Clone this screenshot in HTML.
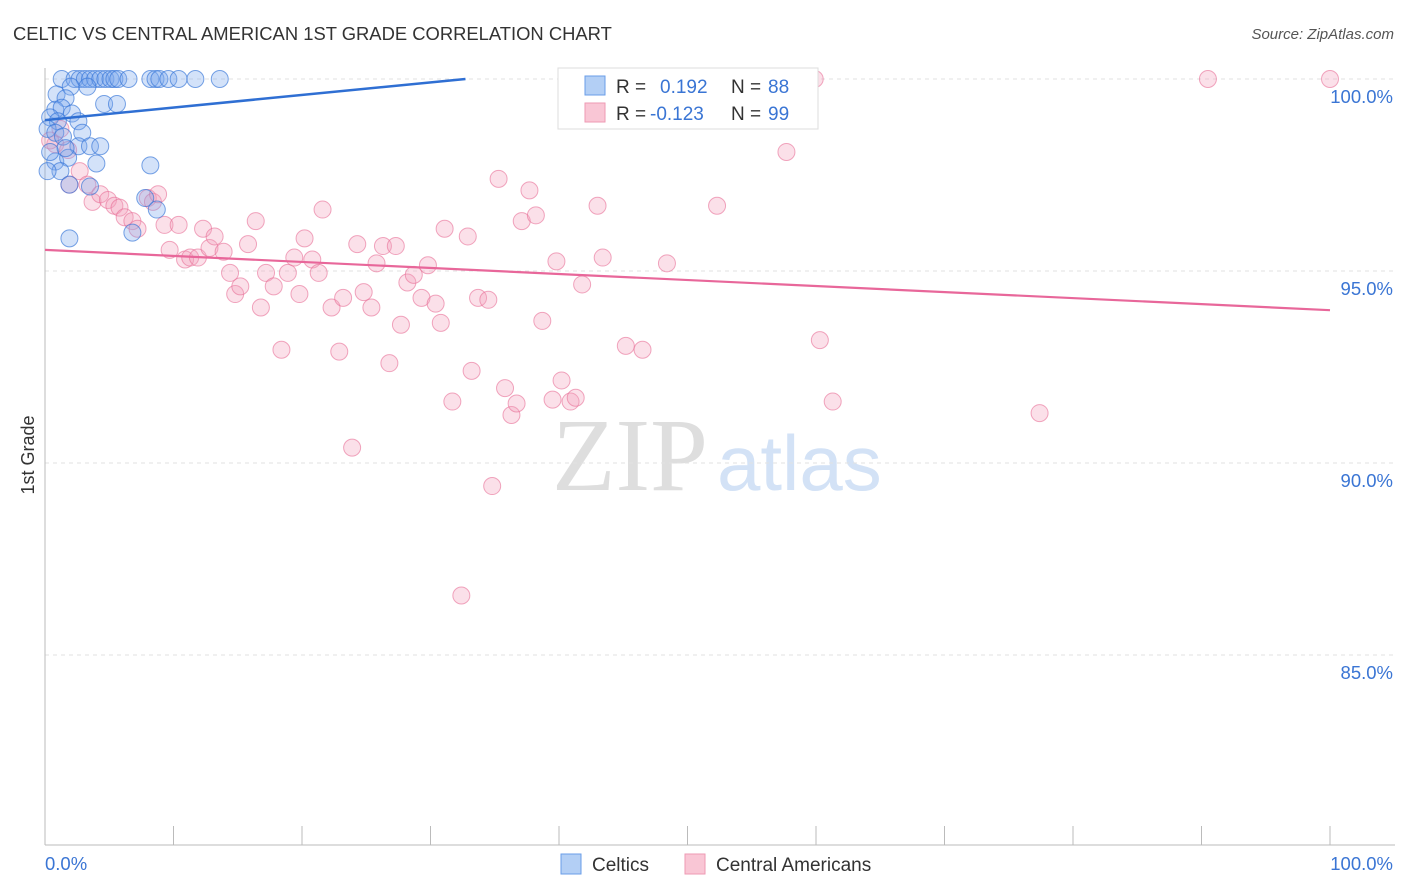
<!DOCTYPE html>
<html><head><meta charset="utf-8"><style>
body{margin:0;background:#fff;font-family:"Liberation Sans",sans-serif;}
svg{display:block}
</style></head><body>
<svg id="chart" width="1406" height="892" xmlns="http://www.w3.org/2000/svg">
<text x="13" y="40" font-size="18.4" fill="#333">CELTIC VS CENTRAL AMERICAN 1ST GRADE CORRELATION CHART</text>
<text x="1394" y="39" font-size="15" fill="#555" font-style="italic" text-anchor="end">Source: ZipAtlas.com</text>
<g>
<text x="552" y="490" font-family="Liberation Serif,serif" font-size="104" fill="#dedede">ZIP</text>
<text x="717" y="490" font-size="78" fill="#d3e2f6">atlas</text>
</g>
<g id="grid"></g>
<g id="axes"></g>
<g id="pts"></g>
<g id="lines"></g>
<text x="34" y="455" font-size="18" fill="#333" transform="rotate(-90 34 455)" text-anchor="middle">1st Grade</text>
<g>
<rect x="558" y="68" width="260" height="61" fill="#fff" stroke="#ddd"/>
<rect x="585" y="76" width="20" height="19" fill="#b3cff5" stroke="#6a9ee8"/>
<rect x="585" y="103" width="20" height="19" fill="#f9c6d5" stroke="#ee9ab3"/>
<text x="616" y="93" font-size="19" fill="#333">R =</text><text x="660" y="93" font-size="19" fill="#3a75d4">0.192</text>
<text x="731" y="93" font-size="19" fill="#333">N =</text><text x="768" y="93" font-size="19" fill="#3a75d4">88</text>
<text x="616" y="120" font-size="19" fill="#333">R =</text><text x="650" y="120" font-size="19" fill="#3a75d4">-0.123</text>
<text x="731" y="120" font-size="19" fill="#333">N =</text><text x="768" y="120" font-size="19" fill="#3a75d4">99</text>
</g>
<g>
<rect x="561" y="854" width="20" height="20" fill="#b3cff5" stroke="#6a9ee8"/>
<text x="592" y="871" font-size="19" fill="#333">Celtics</text></g>
<g>
<rect x="685" y="854" width="20" height="20" fill="#f9c6d5" stroke="#ee9ab3"/>
<text x="716" y="871" font-size="19" fill="#333">Central Americans</text></g>
</svg>
<script>
const yTicks=[100,95,90,85];
const yTickLabels=["100.0%","95.0%","90.0%","85.0%"];
const xTicks=[0,10,20,30,40,50,60,70,80,90,100];
const celticsX=[1.3,2.3,2.7,3.1,3.5,3.9,4.3,4.7,5.1,5.4,5.7,6.5,8.2,8.6,8.9,9.6,10.4,11.7,13.6,0.9,2.0,3.3,1.6,4.6,5.6,0.8,1.3,2.1,0.4,1.0,2.6,0.2,0.8,1.4,2.9,2.6,3.5,4.3,0.8,1.8,4.0,1.2,1.9,3.5,8.2,7.8,8.7,6.8,1.9,0.2,0.4,1.6];
const celticsY=[100,100,100,100,100,100,100,100,100,100,100,100,100,100,100,100,100,100,100,99.6,99.8,99.8,99.5,99.35,99.35,99.2,99.25,99.1,99.0,98.9,98.9,98.7,98.6,98.5,98.6,98.25,98.25,98.25,97.85,97.95,97.8,97.6,97.25,97.2,97.75,96.9,96.6,96.0,95.85,97.6,98.1,98.2];
const centralX=[90.5,100,59.9,50.0,47,1.2,0.8,1.8,0.4,2.7,1.9,3.3,3.7,4.3,4.9,5.4,5.8,6.2,6.8,7.2,8.0,8.4,8.8,9.3,10.4,9.7,10.9,11.3,11.9,12.3,12.8,13.2,13.9,14.4,14.8,15.2,15.8,16.4,16.8,17.2,17.8,18.4,18.9,19.4,19.8,20.2,20.8,21.3,21.6,22.3,22.9,23.2,23.9,24.3,24.8,25.4,25.8,26.3,26.8,27.3,27.7,28.2,28.7,29.3,29.8,30.4,30.8,31.1,31.7,32.4,32.9,33.2,33.7,34.5,34.8,35.3,35.8,36.3,36.7,37.1,37.7,38.2,38.7,39.5,39.8,40.2,40.9,41.3,41.8,43.0,43.4,45.2,46.5,48.4,52.3,57.7,60.3,61.3,77.4];
const centralY=[100,100,100,100,99.25,98.7,98.3,98.15,98.4,97.6,97.25,97.25,96.8,97.0,96.85,96.7,96.65,96.4,96.3,96.1,96.9,96.8,97.0,96.2,96.2,95.55,95.3,95.35,95.35,96.1,95.6,95.9,95.5,94.95,94.4,94.6,95.7,96.3,94.05,94.95,94.6,92.95,94.95,95.35,94.4,95.85,95.3,94.95,96.6,94.05,92.9,94.3,90.4,95.7,94.45,94.05,95.2,95.65,92.6,95.65,93.6,94.7,94.9,94.3,95.15,94.15,93.65,96.1,91.6,86.55,95.9,92.4,94.3,94.25,89.4,97.4,91.95,91.25,91.55,96.3,97.1,96.45,93.7,91.65,95.25,92.15,91.6,91.7,94.65,96.7,95.35,93.05,92.95,95.2,96.7,98.1,93.2,91.6,91.3];
const celticsTrend=[98.93,102.2];
const centralTrend=[95.55,93.98];
const NS="http://www.w3.org/2000/svg";
const X=v=>45+v*12.85, Y=v=>79+(100-v)*38.4;
function mk(tag,attrs,parent){const e=document.createElementNS(NS,tag);for(const k in attrs)e.setAttribute(k,attrs[k]);document.getElementById(parent).appendChild(e);return e;}
yTicks.forEach((t,i)=>{
 const l=mk('line',{x1:45,x2:1395,y1:Y(t),y2:Y(t),stroke:'#e2e2e2','stroke-dasharray':'4 4'},'grid');
 
 
 const tx=mk('text',{x:1393,y:Y(t)+24,'font-size':18.5,fill:'#3a75d4','text-anchor':'end'},'grid');
 tx.textContent=yTickLabels[i];
 
 
});
let ax=mk('line',{x1:45,x2:45,y1:68,y2:845,stroke:'#bbb'},'axes');


ax=mk('line',{x1:45,x2:1395,y1:845,y2:845,stroke:'#bbb'},'axes');


xTicks.forEach(t=>{const l=mk('line',{x1:X(t),x2:X(t),y1:826,y2:845,stroke:'#bbb'},'axes');
 
 });
let xl=mk('text',{x:45,y:870,'font-size':18.5,fill:'#3a75d4'},'axes');xl.textContent='0.0%';


xl=mk('text',{x:1393,y:870,'font-size':18.5,fill:'#3a75d4','text-anchor':'end'},'axes');xl.textContent='100.0%';


centralX.forEach((v,i)=>{const c=mk('circle',{cx:X(v),cy:Y(centralY[i]),r:8.5,fill:'rgba(244,160,188,0.33)',stroke:'rgba(232,110,150,0.6)','stroke-width':1},'pts');
 
 });
celticsX.forEach((v,i)=>{const c=mk('circle',{cx:X(v),cy:Y(celticsY[i]),r:8.5,fill:'rgba(120,168,236,0.33)',stroke:'rgba(50,115,215,0.65)','stroke-width':1},'pts');
 
 });
const bx=(100-celticsTrend[0])/(celticsTrend[1]-celticsTrend[0])*100;
let tl=mk('line',{x1:X(0),y1:Y(celticsTrend[0]),x2:X(bx),y2:Y(100),stroke:'#2f6fd3','stroke-width':2.5},'lines');


tl=mk('line',{x1:X(0),y1:Y(centralTrend[0]),x2:X(100),y2:Y(centralTrend[1]),stroke:'#e8679a','stroke-width':2.2},'lines');


</script>
</body></html>
